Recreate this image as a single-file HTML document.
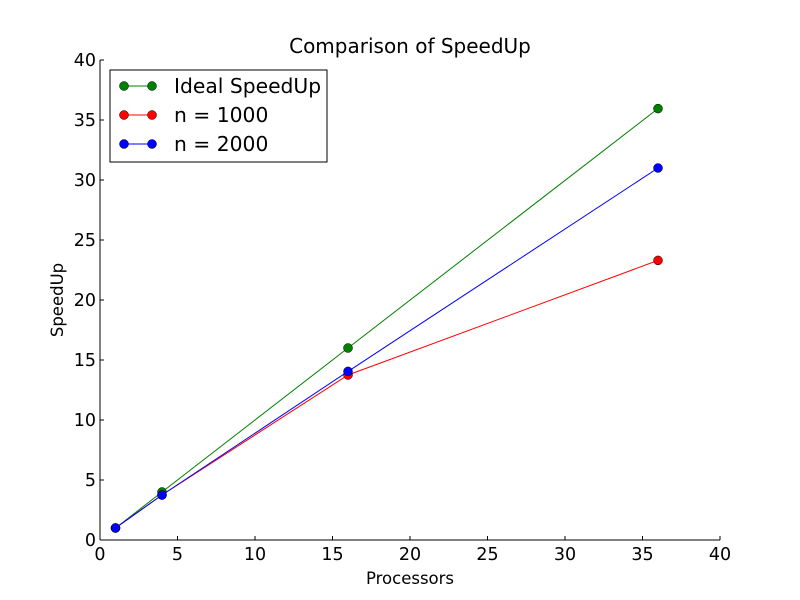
<!DOCTYPE html>
<html><head><meta charset="utf-8"><style>
body{margin:0;background:#fff;}
svg{display:block;font-family:"DejaVu Sans","Liberation Sans",sans-serif;}
</style></head><body>
<svg id="chart" width="800" height="600">
<rect width="800" height="600" fill="#fff"/>
<text x="410" y="53" font-size="20" text-anchor="middle">Comparison of SpeedUp</text>
<text x="410" y="584" font-size="16.5" text-anchor="middle">Processors</text>
<text transform="translate(63,300) rotate(-90)" font-size="16.5" text-anchor="middle">SpeedUp</text>
<g id="axes"></g>
<g id="series"></g>
<g>
<rect x="110" y="70" width="217" height="92" fill="#fff" stroke="#000" stroke-width="1"/>
<g><line x1="124" y1="86" x2="152" y2="86" stroke="green"/><circle cx="124" cy="86" r="4.5" fill="green" stroke="#000" stroke-width="0.5"/><circle cx="152" cy="86" r="4.5" fill="green" stroke="#000" stroke-width="0.5"/><text x="174" y="93" font-size="20.3">Ideal SpeedUp</text></g>
<g><line x1="124" y1="115" x2="152" y2="115" stroke="red"/><circle cx="124" cy="115" r="4.5" fill="red" stroke="#000" stroke-width="0.5"/><circle cx="152" cy="115" r="4.5" fill="red" stroke="#000" stroke-width="0.5"/><text x="174" y="122" font-size="20.3">n = 1000</text></g>
<g><line x1="124" y1="144" x2="152" y2="144" stroke="blue"/><circle cx="124" cy="144" r="4.5" fill="blue" stroke="#000" stroke-width="0.5"/><circle cx="152" cy="144" r="4.5" fill="blue" stroke="#000" stroke-width="0.5"/><text x="174" y="151" font-size="20.3">n = 2000</text></g>
</g>
</svg>
<script>
const processors=[1,4,16,36];
const idealSpeedup=[1,4,16,35.95];
const speedupN1000=[1,3.75,13.75,23.3];
const speedupN2000=[1,3.75,14.05,31.0];
const xTicks=[0,5,10,15,20,25,30,35,40];
const yTicks=[0,5,10,15,20,25,30,35,40];
const NS='http://www.w3.org/2000/svg';
const X0=100,X1=720,Y0=540,Y1=60;
const xs=v=>X0+(v-0)/40*(X1-X0);
const ys=v=>Y0-(v-0)/40*(Y0-Y1);
function mk(tag,attrs,parent){const e=document.createElementNS(NS,tag);for(const k in attrs)e.setAttribute(k,attrs[k]);parent.appendChild(e);return e;}
const ax=document.getElementById('axes');
let l=mk('line',{x1:X0,y1:Y0,x2:X1,y2:Y0,stroke:'#000'},ax);


l=mk('line',{x1:X0,y1:Y0,x2:X0,y2:Y1,stroke:'#000'},ax);


xTicks.forEach(t=>{const x=xs(t);mk('line',{x1:x,y1:Y0,x2:x,y2:Y0-4,stroke:'#000'},ax);
const tx=mk('text',{x:x,y:Y0+20,'font-size':17.5,'text-anchor':'middle'},ax);tx.textContent=t;

});
yTicks.forEach(t=>{const y=ys(t);mk('line',{x1:X0,y1:y,x2:X0+4,y2:y,stroke:'#000'},ax);
const tx=mk('text',{x:X0-4,y:y+6,'font-size':17.5,'text-anchor':'end'},ax);tx.textContent=t;

});
const sg=document.getElementById('series');
function series(vals,color,name){
const g=mk('g',{},sg);


mk('polyline',{points:processors.map((p,i)=>xs(p)+','+ys(vals[i])).join(' '),fill:'none',stroke:color},g);
processors.forEach((p,i)=>{const c=mk('circle',{cx:xs(p),cy:ys(vals[i]),r:4.5,fill:color,stroke:'#000','stroke-width':0.5},g);

});
}
series(idealSpeedup,'green','ideal-speedup-series');
series(speedupN1000,'red','n1000-series');
series(speedupN2000,'blue','n2000-series');
</script>
</body></html>
